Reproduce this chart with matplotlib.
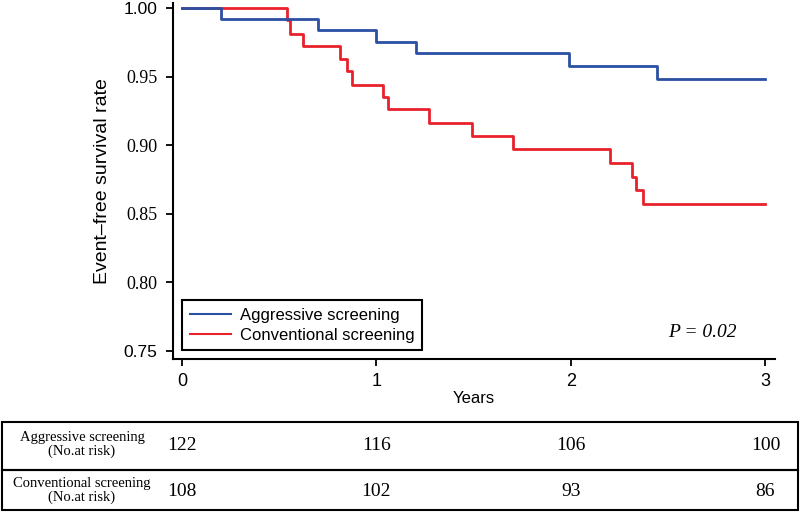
import matplotlib
matplotlib.use('Agg')
import matplotlib.pyplot as plt
from matplotlib.patches import Rectangle
from matplotlib.transforms import blended_transform_factory

# Kaplan-Meier steps (years, survival)
agg_t = [0.0, 0.199, 0.70, 0.996, 1.203, 1.991, 2.44, 3.0]
agg_s = [1.000, 0.992, 0.984, 0.975, 0.967, 0.958, 0.948, 0.948]

conv_t = [0.0, 0.538, 0.555, 0.620, 0.812, 0.847, 0.872, 1.035, 1.061,
          1.271, 1.489, 1.703, 2.200, 2.312, 2.334, 2.372, 3.0]
conv_s = [1.000, 0.991, 0.981, 0.972, 0.963, 0.954, 0.944, 0.935, 0.926,
          0.916, 0.907, 0.897, 0.887, 0.877, 0.867, 0.857, 0.857]

groups = ['Aggressive screening', 'Conventional screening']
risk_years = [0, 1, 2, 3]
agg_risk = [122, 116, 106, 100]
conv_risk = [108, 102, 93, 86]

yticks = [0.75, 0.80, 0.85, 0.90, 0.95, 1.00]
xticks = [0, 1, 2, 3]

blue = '#2b4fa3'
red = '#e8212b'
sans = ['Liberation Sans', 'DejaVu Sans']
serif = ['Liberation Serif', 'DejaVu Serif']

fig = plt.figure(figsize=(8, 5.12), dpi=100)
W, H = 800., 512.
ax = fig.add_axes([173 / W, 1 - 359 / H, (775 - 173) / W, (359 - 3) / H])

ax.step(conv_t, conv_s, where='post', color=red, lw=2.0, label=groups[1])
ax.step(agg_t, agg_s, where='post', color=blue, lw=2.0, label=groups[0])

ax.set_xlim(-0.046, 3.049)
ax.set_ylim(0.7442, 1.0036)
ax.set_xticks(xticks)
ax.set_yticks(yticks)
ax.set_xticklabels([str(v) for v in xticks], fontsize=13, family=sans)
ylabs = ax.set_yticklabels(['%.2f' % v for v in yticks], fontsize=13)
for v, t in zip(yticks, ylabs):
    if v in (0.75, 1.00):
        t.set_family(sans)
        t.set_fontsize(12.5)
    else:
        t.set_family(serif)
ax.tick_params(direction='out', length=5, width=1.3)
ax.tick_params(axis='y', pad=6)
ax.tick_params(axis='x', pad=5)
for s in ('top', 'right'):
    ax.spines[s].set_visible(False)
for s in ('left', 'bottom'):
    ax.spines[s].set_linewidth(1.5)

ax.set_ylabel('Event\u2013free survival rate', fontsize=14, family=sans, labelpad=9)
ax.set_xlabel('Years', fontsize=12, family=sans, labelpad=1)

h, l = ax.get_legend_handles_labels()
leg = ax.legend(h[::-1], l[::-1], loc='lower left', bbox_to_anchor=(0.015, 0.025),
                borderaxespad=0, fancybox=False, framealpha=1, edgecolor='black',
                prop={'family': sans, 'size': 12}, handlelength=2.5,
                handletextpad=0.55, labelspacing=0.3, borderpad=0.45)
leg.get_frame().set_linewidth(1.5)
for line in leg.get_lines():
    line.set_linewidth(1.5)

ax.text(0.88, 0.075, 'P = 0.02', transform=ax.transAxes, fontsize=14,
        family=serif, style='italic', ha='center', va='center')

# number at risk table
for y0, y1 in [(422, 470), (470, 510)]:
    fig.add_artist(Rectangle((2 / W, 1 - y1 / H), 796 / W, (y1 - y0) / H,
                             transform=fig.transFigure, fill=False,
                             edgecolor='black', lw=1.5))
tr = blended_transform_factory(ax.transData, fig.transFigure)
for name, counts, yc in [(groups[0], agg_risk, 444.5), (groups[1], conv_risk, 490)]:
    fig.text(82 / W, 1 - yc / H, name + '\n(No.at risk)', ha='center', va='center',
             fontsize=10.5, family=serif, linespacing=1.05)
    for x, c in zip(risk_years, counts):
        fig.text(x, 1 - (yc + 1) / H, str(c), transform=tr, ha='center', va='center',
                 fontsize=14, family=serif)

fig.savefig('out.png', dpi=100)
plt.close(fig)
